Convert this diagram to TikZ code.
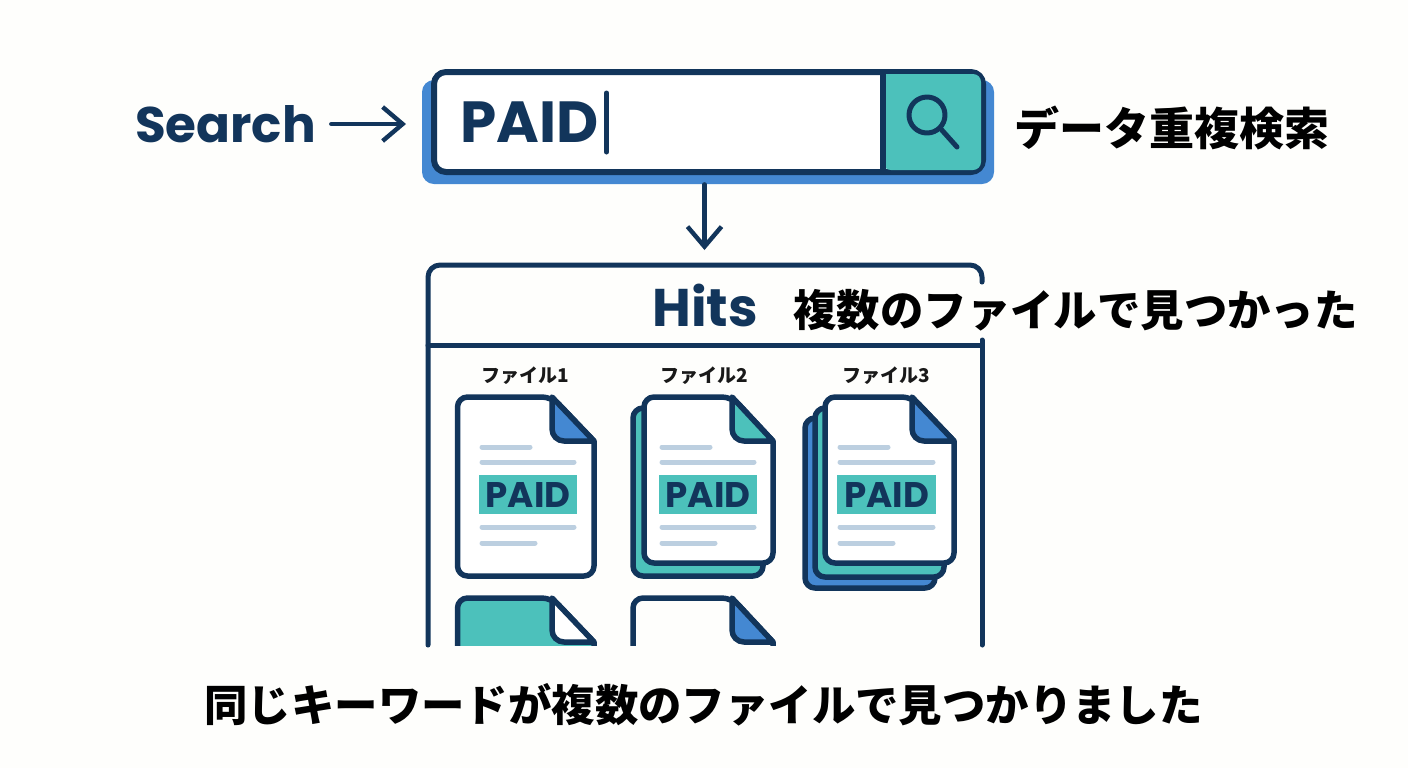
\documentclass[tikz,border=0pt]{standalone}
\usepackage{fontspec}
\setmainfont{Poppins}
\newfontfamily\jpfont{Noto Sans CJK JP}
\usetikzlibrary{arrows.meta, positioning}
\definecolor{navy}{HTML}{12355B}
\definecolor{tealfill}{HTML}{4CC1BB}
\definecolor{bluefill}{HTML}{4488D2}
\definecolor{linegrey}{HTML}{BCCFE0}
\definecolor{paper}{HTML}{FEFEFC}
\newcommand{\filesheet}[7]{
  \draw[sheet, fill=#6, rounded corners=5pt] (#1,#4) -- (#1,#2) -- (#5,#2) [sharp corners] -- (#3,#2+44) [rounded corners=5pt] -- (#3,#4) -- cycle;
  \draw[sheet, fill=#7] (#5,#2) [rounded corners=6pt] -- (#5,#2+44) [sharp corners] -- (#3,#2+44) -- cycle;
}
\newcommand{\backsheet}[5]{
  \draw[sheet, fill=#5, rounded corners=5pt] (#1,#4) -- (#1,#2) -- (#1+30,#2) -- (#1+30,#4-30) -- (#3,#4-30) -- (#3,#4) -- cycle;
}
\newcommand{\filetext}[2]{
  \draw[textline] (#1+3,447) -- (#1+51,447);
  \draw[textline] (#1+3,462) -- (#1+#2-3,462);
  \draw[textline] (#1+3,527) -- (#1+#2-3,527);
  \draw[textline] (#1+3,543) -- (#1+56,543);
  \node[paid mark, minimum width=#2*0.5pt] at (#1+#2/2,494.5) {PAID};
}
\begin{document}
\begin{tikzpicture}[x=0.5pt, y=-0.5pt, line join=round,
  sheet/.style={draw=navy, line width=2.75pt},
  textline/.style={linegrey, line width=2.5pt, line cap=round},
  paid mark/.style={fill=tealfill, text=navy, inner sep=0pt, minimum height=19.5pt, font=\fontsize{17.8}{19}\selectfont\bfseries},
  file label/.style={font=\fontsize{9.5}{11}\selectfont\jpfont\bfseries, text=black!90},
  jp label/.style={font=\fontsize{21.7}{25}\selectfont\jpfont\bfseries, text=black},
  flow/.style={draw=navy, line width=2.2pt, line cap=round, -{Straight Barb[length=10pt, width=17pt, line width=2.2pt]}}]
  \fill[paper] (0,0) rectangle (1408,768);
  \useasboundingbox (0,0) rectangle (1408,768);

  \node[fill=bluefill, rounded corners=6pt, inner sep=0pt, minimum width=286pt, minimum height=52pt] (backbox) at (708,132) {};
  \node[draw=navy, fill=white, rounded corners=6pt, line width=3pt, inner sep=0pt, minimum width=274.5pt, minimum height=50pt] (searchbox) at (708.5,122) {};
  \node[inner sep=0pt, anchor=base west, text=navy, font=\fontsize{29}{31}\selectfont\bfseries] (query) at (460,142) {PAID};
  \draw[navy, line width=2.5pt, line cap=round] (606.5,93) -- (606.5,152);
  \fill[tealfill, rounded corners=4pt] (883,74) -- (981,74) -- (981,170) -- (883,170) [sharp corners] -- cycle;
  \draw[navy, line width=3pt] (883,72) -- (883,172);
  \draw[navy, line width=2.5pt] (927,115) circle (18);
  \draw[navy, line width=2.5pt, line cap=round] (940,128) -- (957,147);

  \node[text=navy, inner sep=0pt, font=\fontsize{25}{28}\selectfont\bfseries] (searchlabel) at (225.5,124) {Search};
  \node[jp label, inner sep=0pt, anchor=west, font=\fontsize{22.5}{25}\selectfont\jpfont\bfseries] (titlelabel) at (1014,128) {データ重複検索};
  \coordinate (searchtip) at (406,124);
  \draw[flow, shorten <=7.5pt] (searchlabel.east) -- (searchtip);

  \coordinate (hitstop) at (704.5,250);
  \draw[flow] (backbox.south -| hitstop) -- (hitstop);

  \draw[navy, line width=2.5pt, line cap=round, rounded corners=6pt] (428,645) -- (428,265) -- (982,265) -- (982,282);
  \draw[navy, line width=2.5pt, line cap=round] (428,345) -- (982,345);
  \draw[navy, line width=2.5pt, line cap=round] (982,340) -- (982,645);
  \node[text=navy, inner sep=0pt, anchor=base west, font=\fontsize{26.5}{28}\selectfont\bfseries] (hitslabel) at (652,326) {Hits};
  \node[jp label, inner sep=0pt, anchor=west] (hitsnote) at (793,310) {複数のファイルで見つかった};

  \node[file label] (file1) at (525.5,376) {ファイル1};
  \node[file label] (file2) at (704,376) {ファイル2};
  \node[file label] (file3) at (886,376) {ファイル3};

  \filesheet{457.5}{397}{594}{576}{552}{white}{bluefill}
  \filetext{479}{98}

  \backsheet{633}{408}{763}{576}{tealfill}
  \filesheet{644}{397}{773}{563}{732}{white}{tealfill}
  \filetext{659}{98}

  \backsheet{805}{418}{935}{588}{bluefill}
  \backsheet{815}{408}{944}{577}{tealfill}
  \filesheet{825}{397}{954}{563}{912}{white}{bluefill}
  \filetext{837}{99}

  \begin{scope}
    \clip (440,590) rectangle (790,645);
    \filesheet{457.5}{598}{594}{700}{552}{tealfill}{white}
    \filesheet{633}{598}{773}{700}{732}{paper}{bluefill}
  \end{scope}

  \node[jp label, inner sep=0pt] (footer) at (703.5,705) {同じキーワードが複数のファイルで見つかりました};
\end{tikzpicture}
\end{document}
